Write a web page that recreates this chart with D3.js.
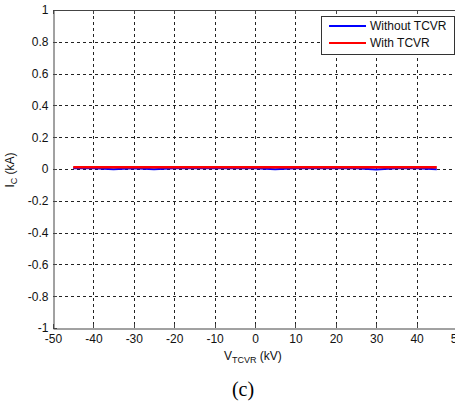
<!DOCTYPE html>
<html><head><meta charset="utf-8">
<script src="https://cdn.jsdelivr.net/npm/d3@7"></script>
<style>body{margin:0;background:#fff}svg{display:block;font-family:"Liberation Sans",Arial,sans-serif}</style>
</head><body><svg id="c" width="455" height="406"></svg>
<script>
const xTicks = [-50,-40,-30,-20,-10,0,10,20,30,40,50];
const yTicks = [-1,-0.8,-0.6,-0.4,-0.2,0,0.2,0.4,0.6,0.8,1];
const vValues = [-45,-40,-35,-30,-25,-20,-15,-10,-5,0,5,10,15,20,25,30,35,40,45];
const withoutTCVR = [0.004,0.004,-0.002,0.004,-0.002,0.004,0.004,0.004,0.004,0.004,-0.002,0.004,0.004,0.004,0.004,-0.003,0.004,0.004,-0.002];
const withTCVR = [0.011,0.011,0.011,0.011,0.011,0.011,0.011,0.011,0.011,0.011,0.011,0.011,0.011,0.011,0.011,0.011,0.011,0.011,0.011];
const legendLabels = ["Without TCVR","With TCVR"];
const colors = ["#0000ff","#ff0000"];

const svg = d3.select("#c");
const L=53, R=457, T=10, B=328;
const x = d3.scaleLinear().domain([-50,50]).range([L,R]);
const y = d3.scaleLinear().domain([-1,1]).range([B,T]);
const fmt = d => String(+d.toFixed(1)); // plain hyphen minus

// grid
const g = svg.append("g");
g.selectAll("line.vx").data(xTicks.slice(1,-1)).enter().append("line")
 .attr("x1",d=>Math.round(x(d))+0.5).attr("x2",d=>Math.round(x(d))+0.5).attr("y1",T).attr("y2",B)
 .attr("stroke","#222").attr("stroke-width",1).attr("stroke-dasharray","3,3");
g.selectAll("line.hy").data(yTicks.slice(1,-1)).enter().append("line")
 .attr("y1",d=>Math.round(y(d))+0.5).attr("y2",d=>Math.round(y(d))+0.5).attr("x1",L).attr("x2",R)
 .attr("stroke","#222").attr("stroke-width",1).attr("stroke-dasharray","3,3");

// axes
const xa = svg.append("g").attr("transform",`translate(0,${B+0.5})`)
 .call(d3.axisBottom(x).tickValues(xTicks).tickSize(0).tickPadding(6).tickFormat(fmt));
const ya = svg.append("g").attr("transform",`translate(${L+0.5},0)`)
 .call(d3.axisLeft(y).tickValues(yTicks).tickSize(0).tickPadding(5).tickFormat(fmt));
[xa,ya].forEach(a=>{a.select(".domain").attr("stroke","#444");a.selectAll("text").attr("font-size",12).attr("fill","#111").style("font-family","'Liberation Sans', Arial, sans-serif");});
// top border
svg.append("line").attr("x1",L).attr("x2",R).attr("y1",T+0.5).attr("y2",T+0.5).attr("stroke","#444");
// inward tick marks
svg.append("g").selectAll("line").data(xTicks).enter().append("line")
 .attr("x1",d=>Math.round(x(d))+0.5).attr("x2",d=>Math.round(x(d))+0.5).attr("y1",B).attr("y2",B-4).attr("stroke","#444");
svg.append("g").selectAll("line").data(xTicks).enter().append("line")
 .attr("x1",d=>Math.round(x(d))+0.5).attr("x2",d=>Math.round(x(d))+0.5).attr("y1",T).attr("y2",T+4).attr("stroke","#444");
svg.append("g").selectAll("line").data(yTicks).enter().append("line")
 .attr("y1",d=>Math.round(y(d))+0.5).attr("y2",d=>Math.round(y(d))+0.5).attr("x1",L).attr("x2",L+4).attr("stroke","#444");

// lines
const line = d3.line().x((d,i)=>x(vValues[i])).y(d=>y(d));
svg.append("path").datum(withoutTCVR).attr("d",line).attr("fill","none").attr("stroke",colors[0]).attr("stroke-width",2);
svg.append("path").datum(withTCVR).attr("d",line).attr("fill","none").attr("stroke",colors[1]).attr("stroke-width",2.5);

// legend
const lg = svg.append("g");
lg.append("rect").attr("x",321.5).attr("y",16.5).attr("width",133).attr("height",38).attr("fill","#fff").attr("stroke","#333");
legendLabels.forEach((t,i)=>{
  const yy = 26 + i*17;
  lg.append("line").attr("x1",329).attr("x2",366).attr("y1",yy).attr("y2",yy).attr("stroke",colors[i]).attr("stroke-width",2);
  lg.append("text").attr("x",370).attr("y",yy+4).attr("font-size",12).attr("fill","#111").text(t);
});

// axis labels
const yl = svg.append("text").attr("transform","translate(14,170) rotate(-90)").attr("text-anchor","middle").attr("font-size",12).attr("fill","#111");
yl.append("tspan").text("I");
yl.append("tspan").attr("font-size",9).attr("dy",3).text("C");
yl.append("tspan").attr("dy",-3).text(" (kA)");
const xl = svg.append("text").attr("x",224).attr("y",360).attr("font-size",12).attr("fill","#111");
xl.append("tspan").text("V");
xl.append("tspan").attr("font-size",9).attr("dy",3).text("TCVR");
xl.append("tspan").attr("dy",-3).text(" (kV)");

svg.append("text").attr("x",243).attr("y",396).attr("text-anchor","middle").attr("font-size",20)
 .style("font-family","'Liberation Serif', 'Times New Roman', serif").attr("fill","#000").text("(c)");
</script></body></html>
